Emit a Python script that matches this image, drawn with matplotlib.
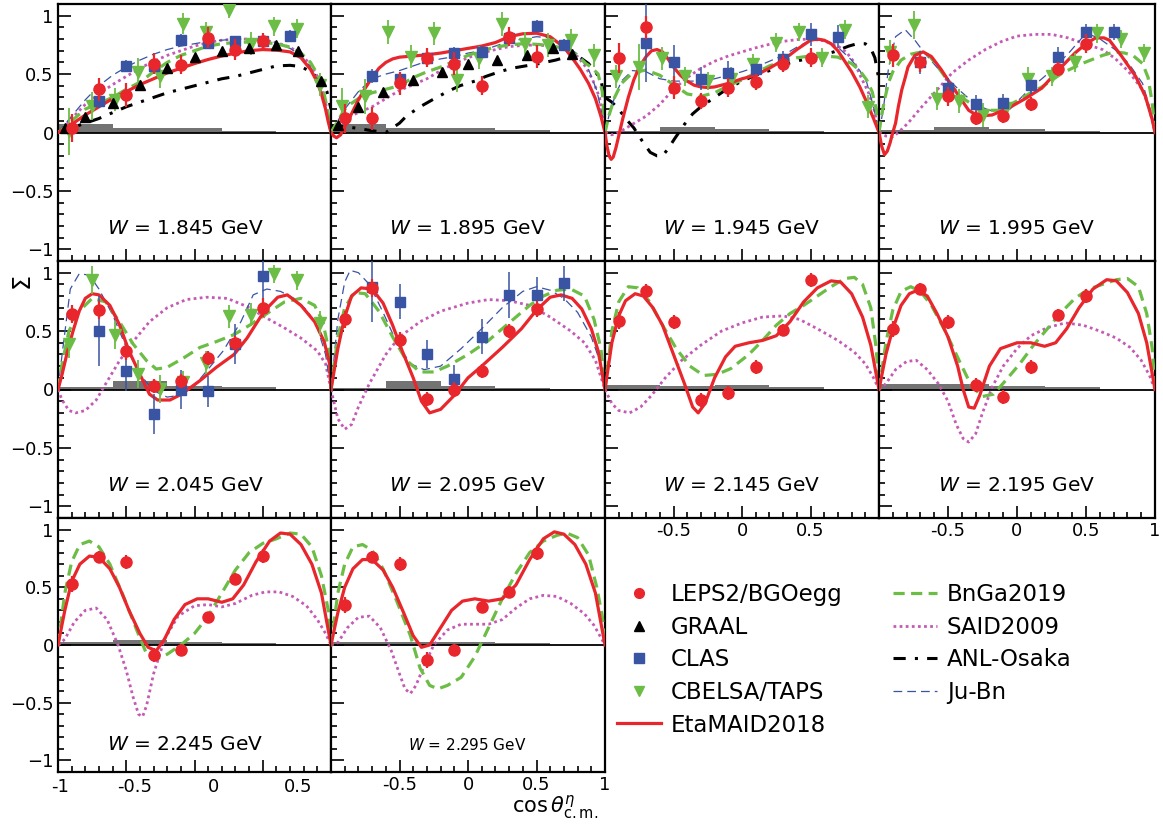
import matplotlib.pyplot as plt
from matplotlib.ticker import MultipleLocator, FixedLocator, FixedFormatter, NullFormatter
from matplotlib.lines import Line2D

plt.rcParams['font.family'] = 'DejaVu Sans'
plt.rcParams['mathtext.fontset'] = 'dejavusans'

# ---- data -------------------------------------------------------------
w_labels = ['1.845', '1.895', '1.945', '1.995', '2.045',
            '2.095', '2.145', '2.195', '2.245', '2.295']

# LEPS2/BGOegg (same bins in every panel)
leps_x = [-0.9, -0.7, -0.5, -0.3, -0.1, 0.1, 0.3, 0.5]
leps_y = [
    [0.04, 0.37, 0.32, 0.59, 0.58, 0.81, 0.71, 0.78],
    [0.12, 0.12, 0.42, 0.64, 0.59, 0.40, 0.82, 0.65],
    [0.64, 0.90, 0.385, 0.27, 0.385, 0.43, 0.59, 0.64],
    [0.66, 0.60, 0.31, 0.12, 0.145, 0.24, 0.54, 0.76],
    [0.645, 0.68, 0.33, 0.034, 0.073, 0.27, 0.40, 0.70],
    [0.60, 0.87, 0.42, -0.08, 0.0, 0.16, 0.50, 0.69],
    [0.59, 0.84, 0.58, -0.09, -0.03, 0.19, 0.51, 0.94],
    [0.52, 0.86, 0.58, 0.04, -0.06, 0.19, 0.64, 0.80],
    [0.53, 0.76, 0.72, -0.09, -0.04, 0.24, 0.57, 0.77],
    [0.35, 0.76, 0.70, -0.13, -0.04, 0.33, 0.46, 0.80],
]
leps_err = [
    [0.12, 0.10, 0.10, 0.09, 0.08, 0.09, 0.09, 0.07],
    [0.12, 0.10, 0.10, 0.08, 0.10, 0.08, 0.08, 0.10],
    [0.13, 0.10, 0.10, 0.07, 0.08, 0.07, 0.07, 0.08],
    [0.10, 0.08, 0.08, 0.06, 0.06, 0.06, 0.06, 0.08],
    [0.08, 0.08, 0.08, 0.06, 0.06, 0.06, 0.06, 0.08],
    [0.07, 0.08, 0.07, 0.06, 0.06, 0.06, 0.06, 0.07],
    [0.07, 0.06, 0.06, 0.06, 0.06, 0.06, 0.05, 0.06],
    [0.07, 0.05, 0.06, 0.06, 0.06, 0.06, 0.05, 0.06],
    [0.07, 0.05, 0.06, 0.06, 0.05, 0.05, 0.05, 0.06],
    [0.07, 0.05, 0.06, 0.07, 0.05, 0.05, 0.05, 0.06],
]
# systematic uncertainties (grey boxes)
leps_sys = [
    [0.07, 0.07, 0.035, 0.035, 0.04, 0.04, 0.015, 0.015],
    [0.07, 0.07, 0.04, 0.04, 0.04, 0.04, 0.02, 0.02],
    [0.015, 0.015, 0.045, 0.045, 0.03, 0.03, 0.015, 0.015],
    [0.02, 0.02, 0.045, 0.045, 0.03, 0.03, 0.017, 0.017],
    [0.02, 0.02, 0.07, 0.07, 0.03, 0.03, 0.02, 0.02],
    [0.01, 0.01, 0.07, 0.07, 0.03, 0.03, 0.01, 0.01],
    [0.04, 0.04, 0.03, 0.03, 0.04, 0.04, 0.02, 0.02],
    [0.05, 0.05, 0.05, 0.05, 0.03, 0.03, 0.02, 0.02],
    [0.03, 0.03, 0.04, 0.04, 0.03, 0.03, 0.02, 0.02],
    [0.03, 0.03, 0.03, 0.03, 0.03, 0.03, 0.02, 0.02],
]

# GRAAL
graal_x = [
    [-0.95, -0.8, -0.6, -0.4, -0.2, 0.0, 0.2, 0.4, 0.6, 0.76, 0.93],
    [-0.95, -0.8, -0.62, -0.4, -0.19, 0.0, 0.21, 0.43, 0.62, 0.76],
]
graal_y = [
    [0.04, 0.13, 0.25, 0.41, 0.55, 0.65, 0.70, 0.72, 0.75, 0.70, 0.44],
    [0.06, 0.22, 0.35, 0.45, 0.52, 0.59, 0.62, 0.66, 0.72, 0.67],
]

# CLAS
clas_x = [
    [-0.7, -0.5, -0.3, -0.1, 0.1, 0.3, 0.5, 0.7],
    [-0.7, -0.5, -0.3, -0.1, 0.1, 0.3, 0.5, 0.7],
    [-0.7, -0.5, -0.3, -0.1, 0.1, 0.3, 0.5, 0.7],
    [-0.7, -0.5, -0.3, -0.1, 0.1, 0.3, 0.5, 0.7],
    [-0.7, -0.5, -0.3, -0.1, 0.1, 0.3, 0.5],
    [-0.7, -0.5, -0.3, -0.1, 0.1, 0.3, 0.5, 0.7],
]
clas_y = [
    [0.27, 0.57, 0.565, 0.79, 0.77, 0.78, 0.785, 0.83],
    [0.48, 0.46, 0.64, 0.68, 0.69, 0.81, 0.91, 0.75],
    [0.77, 0.60, 0.46, 0.51, 0.54, 0.63, 0.84, 0.82],
    [0.60, 0.385, 0.24, 0.25, 0.41, 0.65, 0.86, 0.86],
    [0.50, 0.16, -0.21, 0.0, -0.017, 0.39, 0.97],
    [0.88, 0.75, 0.30, 0.09, 0.45, 0.81, 0.81, 0.91],
]
clas_err = [
    [0.06, 0.05, 0.05, 0.05, 0.05, 0.05, 0.05, 0.05],
    [0.06, 0.06, 0.05, 0.05, 0.05, 0.05, 0.05, 0.05],
    [0.34, 0.15, 0.10, 0.10, 0.08, 0.07, 0.10, 0.10],
    [0.10, 0.08, 0.08, 0.08, 0.08, 0.08, 0.07, 0.07],
    [0.30, 0.17, 0.17, 0.17, 0.13, 0.17, 0.25],
    [0.30, 0.15, 0.12, 0.12, 0.15, 0.20, 0.15, 0.15],
]

# CBELSA/TAPS
cb_x = [-0.917, -0.75, -0.583, -0.417, -0.25, -0.083,
        0.083, 0.25, 0.417, 0.583, 0.75, 0.917]
cb_y = [
    [0.01, 0.23, 0.28, 0.52, 0.48, 0.93, 0.86, 1.05, 0.76, 0.91, 0.89, 0.41],
    [0.23, 0.31, 0.86, 0.65, 0.85, 0.45, 0.64, 0.93, 0.76, 0.75, 0.79, 0.66],
    [0.48, 0.56, 0.635, 0.48, 0.44, 0.46, 0.59, 0.77, 0.86, 0.64, 0.88, 0.22],
    [0.69, 0.92, 0.29, 0.27, 0.15, 0.21, 0.46, 0.48, 0.60, 0.85, 0.80, 0.68],
    [0.39, 0.935, 0.47, 0.13, 0.006, 0.06, 0.23, 0.625, 0.64, 0.99, 0.935, 0.57],
]
cb_err = [
    [0.20, 0.12, 0.10, 0.12, 0.10, 0.09, 0.09, 0.07, 0.10, 0.08, 0.08, 0.10],
    [0.15, 0.15, 0.10, 0.10, 0.10, 0.10, 0.10, 0.10, 0.10, 0.10, 0.10, 0.10],
    [0.10, 0.20, 0.10, 0.08, 0.08, 0.10, 0.08, 0.08, 0.08, 0.08, 0.08, 0.10],
    [0.10, 0.12, 0.10, 0.10, 0.10, 0.08, 0.10, 0.08, 0.08, 0.08, 0.08, 0.08],
    [0.12, 0.12, 0.12, 0.12, 0.12, 0.10, 0.10, 0.10, 0.10, 0.08, 0.08, 0.10],
]

# model curves, (cos theta, Sigma) pairs per panel
maid = [
    [(-1, 0), (-0.95, 0.03), (-0.9, 0.07), (-0.8, 0.15), (-0.7, 0.22), (-0.6, 0.29), (-0.5, 0.35),
     (-0.4, 0.41), (-0.3, 0.46), (-0.2, 0.51), (-0.1, 0.55), (0, 0.59), (0.1, 0.625), (0.2, 0.655),
     (0.3, 0.68), (0.4, 0.70), (0.5, 0.71), (0.6, 0.705), (0.7, 0.69), (0.78, 0.64), (0.85, 0.54),
     (0.9, 0.43), (0.93, 0.33), (0.96, 0.2), (0.98, 0.09), (1, 0)],
    [(-1, 0), (-0.98, -0.03), (-0.96, -0.045), (-0.93, -0.02), (-0.9, 0.05), (-0.85, 0.16),
     (-0.8, 0.28), (-0.75, 0.38), (-0.7, 0.47), (-0.65, 0.55), (-0.6, 0.60), (-0.55, 0.63),
     (-0.5, 0.645), (-0.4, 0.655), (-0.3, 0.665), (-0.2, 0.68), (-0.1, 0.70), (0, 0.72), (0.1, 0.74),
     (0.2, 0.77), (0.3, 0.82), (0.4, 0.845), (0.5, 0.85), (0.6, 0.82), (0.7, 0.73), (0.76, 0.64),
     (0.82, 0.54), (0.88, 0.42), (0.93, 0.29), (0.97, 0.14), (1, 0)],
    [(-1, 0), (-0.985, -0.12), (-0.97, -0.2), (-0.955, -0.23), (-0.94, -0.21), (-0.92, -0.13),
     (-0.9, -0.03), (-0.87, 0.12), (-0.83, 0.3), (-0.79, 0.45), (-0.75, 0.56), (-0.7, 0.65),
     (-0.66, 0.70), (-0.62, 0.71), (-0.58, 0.69), (-0.54, 0.63), (-0.5, 0.56), (-0.45, 0.49),
     (-0.4, 0.44), (-0.35, 0.405), (-0.3, 0.39), (-0.25, 0.385), (-0.2, 0.39), (-0.1, 0.42),
     (0, 0.46), (0.1, 0.49), (0.2, 0.55), (0.3, 0.62), (0.4, 0.71), (0.5, 0.79), (0.55, 0.80),
     (0.6, 0.79), (0.65, 0.76), (0.7, 0.70), (0.75, 0.61), (0.8, 0.52), (0.86, 0.39), (0.91, 0.26),
     (0.96, 0.12), (1, 0)],
    [(-1, 0), (-0.98, -0.12), (-0.96, -0.19), (-0.94, -0.16), (-0.92, -0.09), (-0.9, 0.0),
     (-0.88, 0.08), (-0.86, 0.22), (-0.835, 0.365), (-0.81, 0.47), (-0.79, 0.56), (-0.74, 0.66),
     (-0.68, 0.69), (-0.62, 0.65), (-0.55, 0.54), (-0.5, 0.45), (-0.42, 0.31), (-0.35, 0.19),
     (-0.28, 0.14), (-0.18, 0.15), (-0.06, 0.21), (0.06, 0.29), (0.18, 0.38), (0.3, 0.535),
     (0.42, 0.68), (0.5, 0.76), (0.57, 0.81), (0.63, 0.81), (0.67, 0.79), (0.76, 0.65),
     (0.86, 0.48), (0.93, 0.31), (0.98, 0.11), (1, 0)],
    [(-1, 0), (-0.97, 0.13), (-0.93, 0.33), (-0.89, 0.5), (-0.845, 0.67), (-0.8, 0.78),
     (-0.75, 0.82), (-0.7, 0.81), (-0.62, 0.72), (-0.55, 0.555), (-0.48, 0.33), (-0.4, 0.13),
     (-0.33, -0.04), (-0.27, -0.09), (-0.18, -0.09), (-0.095, -0.04), (0.04, 0.076), (0.16, 0.19),
     (0.29, 0.3), (0.385, 0.44), (0.51, 0.67), (0.61, 0.79), (0.68, 0.81), (0.78, 0.72),
     (0.88, 0.58), (0.95, 0.41), (0.99, 0.22), (1, 0)],
    [(-1, 0), (-0.95, 0.35), (-0.9, 0.62), (-0.85, 0.8), (-0.78, 0.87), (-0.7, 0.86), (-0.62, 0.74),
     (-0.55, 0.55), (-0.48, 0.33), (-0.4, 0.1), (-0.34, -0.1), (-0.28, -0.2), (-0.2, -0.17),
     (-0.1, -0.05), (0.0, 0.1), (0.1, 0.2), (0.25, 0.36), (0.39, 0.52), (0.5, 0.68), (0.6, 0.79),
     (0.68, 0.81), (0.76, 0.78), (0.83, 0.69), (0.9, 0.52), (0.95, 0.33), (1, 0)],
    [(-1, 0), (-0.95, 0.4), (-0.9, 0.63), (-0.85, 0.76), (-0.78, 0.82), (-0.72, 0.8), (-0.65, 0.7),
     (-0.58, 0.55), (-0.5, 0.3), (-0.42, 0.05), (-0.36, -0.15), (-0.32, -0.2), (-0.27, -0.12),
     (-0.2, 0.1), (-0.12, 0.28), (-0.05, 0.37), (0.05, 0.4), (0.15, 0.42), (0.25, 0.46), (0.35, 0.58),
     (0.45, 0.75), (0.55, 0.87), (0.65, 0.93), (0.72, 0.92), (0.8, 0.82), (0.88, 0.62), (0.94, 0.38),
     (1, 0)],
    [(-1, 0), (-0.95, 0.3), (-0.9, 0.52), (-0.84, 0.72), (-0.78, 0.82), (-0.72, 0.85), (-0.65, 0.8),
     (-0.58, 0.65), (-0.5, 0.45), (-0.43, 0.2), (-0.39, 0.0), (-0.35, -0.15), (-0.31, -0.16),
     (-0.27, -0.05), (-0.2, 0.2), (-0.12, 0.35), (0.0, 0.4), (0.1, 0.4), (0.2, 0.37), (0.28, 0.4),
     (0.36, 0.52), (0.45, 0.7), (0.55, 0.86), (0.65, 0.94), (0.72, 0.93), (0.8, 0.83), (0.88, 0.65),
     (0.94, 0.4), (1, 0)],
    [(-1, 0), (-0.95, 0.3), (-0.9, 0.55), (-0.84, 0.7), (-0.77, 0.77), (-0.7, 0.76), (-0.62, 0.66),
     (-0.55, 0.5), (-0.48, 0.3), (-0.4, 0.1), (-0.34, -0.02), (-0.28, -0.05), (-0.22, 0.05),
     (-0.15, 0.22), (-0.07, 0.35), (0.02, 0.4), (0.1, 0.4), (0.2, 0.37), (0.28, 0.4), (0.36, 0.52),
     (0.45, 0.72), (0.55, 0.9), (0.63, 0.97), (0.7, 0.96), (0.78, 0.87), (0.86, 0.7), (0.93, 0.45),
     (1, 0)],
    [(-1, 0), (-0.95, 0.28), (-0.9, 0.5), (-0.84, 0.66), (-0.77, 0.74), (-0.7, 0.74), (-0.62, 0.65),
     (-0.55, 0.5), (-0.47, 0.28), (-0.4, 0.08), (-0.34, -0.02), (-0.28, 0.0), (-0.2, 0.15),
     (-0.12, 0.3), (-0.04, 0.38), (0.05, 0.4), (0.15, 0.38), (0.25, 0.4), (0.35, 0.52), (0.45, 0.74),
     (0.55, 0.92), (0.63, 0.98), (0.7, 0.96), (0.78, 0.87), (0.86, 0.7), (0.93, 0.45), (1, 0)],
]

bnga = [
    [(-1, 0), (-0.95, 0.04), (-0.9, 0.1), (-0.8, 0.2), (-0.7, 0.25), (-0.6, 0.3), (-0.5, 0.37),
     (-0.4, 0.43), (-0.3, 0.52), (-0.2, 0.6), (-0.1, 0.66), (0, 0.70), (0.1, 0.74), (0.2, 0.76),
     (0.3, 0.77), (0.4, 0.775), (0.5, 0.77), (0.6, 0.76), (0.7, 0.73), (0.78, 0.68), (0.85, 0.6),
     (0.9, 0.5), (0.94, 0.38), (0.97, 0.22), (1, 0)],
    [(-1, 0), (-0.95, 0.1), (-0.9, 0.2), (-0.85, 0.25), (-0.8, 0.29), (-0.7, 0.34), (-0.6, 0.37),
     (-0.5, 0.4), (-0.4, 0.47), (-0.3, 0.52), (-0.2, 0.56), (-0.1, 0.61), (0, 0.66), (0.1, 0.7),
     (0.2, 0.73), (0.3, 0.75), (0.4, 0.76), (0.5, 0.755), (0.6, 0.745), (0.7, 0.72), (0.8, 0.66),
     (0.86, 0.59), (0.9, 0.56), (0.95, 0.5), (0.98, 0.35), (1, 0)],
    [(-1, 0), (-0.97, 0.15), (-0.93, 0.3), (-0.88, 0.42), (-0.8, 0.51), (-0.7, 0.535), (-0.6, 0.49),
     (-0.5, 0.41), (-0.4, 0.33), (-0.3, 0.31), (-0.2, 0.34), (-0.1, 0.4), (0, 0.45), (0.1, 0.51),
     (0.2, 0.57), (0.3, 0.61), (0.4, 0.64), (0.5, 0.655), (0.6, 0.655), (0.7, 0.645), (0.8, 0.59),
     (0.86, 0.53), (0.91, 0.45), (0.95, 0.35), (0.98, 0.2), (1, 0)],
    [(-1, 0), (-0.98, 0.15), (-0.96, 0.28), (-0.93, 0.43), (-0.9, 0.52), (-0.84, 0.62), (-0.77, 0.67),
     (-0.69, 0.69), (-0.63, 0.65), (-0.59, 0.59), (-0.5, 0.44), (-0.44, 0.35), (-0.375, 0.28),
     (-0.3, 0.22), (-0.25, 0.19), (-0.13, 0.19), (0.0, 0.27), (0.1, 0.34), (0.18, 0.39), (0.33, 0.51),
     (0.47, 0.59), (0.62, 0.66), (0.71, 0.69), (0.78, 0.68), (0.84, 0.66), (0.91, 0.59), (0.95, 0.47),
     (0.98, 0.25), (1, 0)],
    [(-1, 0), (-0.97, 0.22), (-0.92, 0.5), (-0.845, 0.67), (-0.75, 0.78), (-0.65, 0.75), (-0.55, 0.58),
     (-0.45, 0.39), (-0.35, 0.245), (-0.28, 0.175), (-0.2, 0.19), (-0.08, 0.27), (0.04, 0.36),
     (0.16, 0.41), (0.29, 0.47), (0.41, 0.555), (0.53, 0.65), (0.66, 0.75), (0.78, 0.78), (0.88, 0.72),
     (0.94, 0.58), (0.99, 0.3), (1, 0)],
    [(-1, 0), (-0.95, 0.45), (-0.9, 0.7), (-0.83, 0.83), (-0.75, 0.82), (-0.65, 0.67), (-0.55, 0.45),
     (-0.45, 0.25), (-0.35, 0.15), (-0.25, 0.15), (-0.15, 0.2), (0, 0.3), (0.15, 0.42), (0.3, 0.57),
     (0.45, 0.72), (0.55, 0.8), (0.65, 0.85), (0.75, 0.86), (0.85, 0.8), (0.92, 0.6), (0.97, 0.35),
     (1, 0)],
    [(-1, 0), (-0.95, 0.5), (-0.9, 0.75), (-0.83, 0.88), (-0.76, 0.87), (-0.68, 0.76), (-0.58, 0.55),
     (-0.48, 0.35), (-0.38, 0.2), (-0.28, 0.12), (-0.18, 0.13), (-0.08, 0.18), (0.05, 0.3),
     (0.15, 0.42), (0.25, 0.55), (0.35, 0.65), (0.45, 0.72), (0.55, 0.8), (0.65, 0.88), (0.75, 0.95),
     (0.82, 0.96), (0.88, 0.9), (0.94, 0.7), (0.98, 0.35), (1, 0)],
    [(-1, 0), (-0.95, 0.4), (-0.9, 0.68), (-0.84, 0.84), (-0.77, 0.88), (-0.7, 0.84), (-0.62, 0.72),
     (-0.52, 0.5), (-0.42, 0.25), (-0.33, 0.03), (-0.25, -0.06), (-0.17, -0.04), (-0.08, 0.08),
     (0.02, 0.22), (0.12, 0.38), (0.22, 0.52), (0.32, 0.66), (0.42, 0.78), (0.52, 0.86), (0.62, 0.9),
     (0.72, 0.94), (0.8, 0.95), (0.88, 0.88), (0.94, 0.65), (0.98, 0.35), (1, 0)],
    [(-1, 0), (-0.95, 0.45), (-0.9, 0.72), (-0.84, 0.87), (-0.77, 0.9), (-0.7, 0.85), (-0.62, 0.7),
     (-0.52, 0.42), (-0.42, 0.12), (-0.35, -0.08), (-0.28, -0.12), (-0.2, -0.08), (-0.1, 0.0),
     (0.0, 0.1), (0.1, 0.25), (0.2, 0.45), (0.3, 0.65), (0.4, 0.8), (0.5, 0.88), (0.6, 0.92),
     (0.7, 0.97), (0.78, 0.96), (0.86, 0.85), (0.93, 0.6), (0.98, 0.3), (1, 0)],
    [(-1, 0), (-0.95, 0.45), (-0.9, 0.7), (-0.84, 0.85), (-0.77, 0.87), (-0.7, 0.82), (-0.62, 0.66),
     (-0.52, 0.38), (-0.42, 0.08), (-0.35, -0.2), (-0.28, -0.35), (-0.22, -0.38), (-0.15, -0.35),
     (-0.05, -0.28), (0.05, -0.1), (0.15, 0.15), (0.25, 0.4), (0.35, 0.62), (0.45, 0.8), (0.55, 0.9),
     (0.65, 0.95), (0.72, 0.97), (0.8, 0.93), (0.88, 0.78), (0.94, 0.5), (0.98, 0.25), (1, 0)],
]

said = [
    [(-1, 0), (-0.95, 0.05), (-0.9, 0.12), (-0.8, 0.24), (-0.7, 0.33), (-0.6, 0.41), (-0.5, 0.48),
     (-0.4, 0.55), (-0.3, 0.61), (-0.2, 0.66), (-0.1, 0.7), (0, 0.74), (0.1, 0.77), (0.2, 0.79),
     (0.3, 0.8), (0.4, 0.8), (0.5, 0.79), (0.6, 0.77), (0.7, 0.73), (0.78, 0.67), (0.85, 0.58),
     (0.9, 0.48), (0.94, 0.36), (0.97, 0.2), (1, 0)],
    [(-1, 0), (-0.95, 0.07), (-0.9, 0.12), (-0.8, 0.17), (-0.7, 0.22), (-0.6, 0.29), (-0.5, 0.36),
     (-0.4, 0.41), (-0.3, 0.46), (-0.2, 0.53), (-0.1, 0.59), (0, 0.64), (0.1, 0.68), (0.2, 0.71),
     (0.3, 0.735), (0.4, 0.745), (0.5, 0.75), (0.6, 0.74), (0.7, 0.72), (0.8, 0.65), (0.86, 0.56),
     (0.91, 0.45), (0.96, 0.3), (1, 0)],
    [(-1, 0), (-0.95, -0.02), (-0.9, 0.0), (-0.8, 0.07), (-0.7, 0.14), (-0.6, 0.24), (-0.5, 0.37),
     (-0.4, 0.47), (-0.3, 0.55), (-0.2, 0.61), (-0.1, 0.655), (0, 0.69), (0.1, 0.725), (0.2, 0.755),
     (0.3, 0.78), (0.4, 0.795), (0.5, 0.80), (0.6, 0.785), (0.7, 0.74), (0.76, 0.69), (0.82, 0.6),
     (0.87, 0.47), (0.92, 0.35), (0.96, 0.22), (1, 0)],
    [(-1, 0), (-0.95, -0.03), (-0.9, -0.035), (-0.86, 0.0), (-0.79, 0.08), (-0.69, 0.22),
     (-0.59, 0.35), (-0.47, 0.51), (-0.35, 0.62), (-0.23, 0.71), (-0.11, 0.78), (0.0, 0.825),
     (0.13, 0.84), (0.25, 0.84), (0.37, 0.81), (0.5, 0.755), (0.62, 0.71), (0.71, 0.635),
     (0.81, 0.52), (0.91, 0.365), (0.96, 0.2), (1, 0)],
    [(-1, 0), (-0.97, -0.09), (-0.92, -0.18), (-0.87, -0.2), (-0.8, -0.18), (-0.72, -0.09),
     (-0.65, 0.05), (-0.55, 0.245), (-0.45, 0.41), (-0.33, 0.58), (-0.2, 0.7), (-0.06, 0.77),
     (0.09, 0.79), (0.24, 0.78), (0.385, 0.71), (0.53, 0.61), (0.655, 0.53), (0.78, 0.44),
     (0.9, 0.33), (0.96, 0.22), (1, 0)],
    [(-1, 0), (-0.95, -0.25), (-0.9, -0.34), (-0.85, -0.3), (-0.8, -0.15), (-0.72, 0.05), (-0.6, 0.3),
     (-0.5, 0.45), (-0.35, 0.58), (-0.2, 0.67), (0, 0.74), (0.15, 0.77), (0.3, 0.76), (0.45, 0.72),
     (0.6, 0.62), (0.75, 0.5), (0.85, 0.4), (0.93, 0.25), (1, 0)],
    [(-1, 0), (-0.95, -0.12), (-0.9, -0.18), (-0.82, -0.2), (-0.74, -0.15), (-0.66, -0.05),
     (-0.56, 0.1), (-0.44, 0.25), (-0.3, 0.38), (-0.15, 0.5), (0, 0.57), (0.15, 0.62), (0.3, 0.63),
     (0.42, 0.6), (0.55, 0.52), (0.7, 0.42), (0.82, 0.32), (0.9, 0.22), (0.96, 0.1), (1, 0)],
    [(-1, 0), (-0.95, 0.05), (-0.88, 0.17), (-0.8, 0.24), (-0.73, 0.25), (-0.65, 0.17), (-0.57, 0.05),
     (-0.5, -0.1), (-0.44, -0.3), (-0.39, -0.42), (-0.35, -0.45), (-0.3, -0.38), (-0.25, -0.2),
     (-0.18, 0.02), (-0.1, 0.2), (0.0, 0.35), (0.1, 0.46), (0.22, 0.53), (0.35, 0.57), (0.48, 0.55),
     (0.6, 0.5), (0.72, 0.44), (0.82, 0.36), (0.9, 0.25), (0.96, 0.12), (1, 0)],
    [(-1, 0), (-0.95, 0.05), (-0.88, 0.2), (-0.8, 0.3), (-0.72, 0.32), (-0.64, 0.22), (-0.56, 0.0),
     (-0.5, -0.22), (-0.45, -0.45), (-0.41, -0.6), (-0.38, -0.62), (-0.35, -0.52), (-0.3, -0.25),
     (-0.22, 0.05), (-0.12, 0.25), (0.0, 0.34), (0.1, 0.35), (0.2, 0.33), (0.3, 0.36), (0.42, 0.43),
     (0.52, 0.46), (0.62, 0.46), (0.72, 0.42), (0.82, 0.34), (0.9, 0.22), (0.96, 0.1), (1, 0)],
    [(-1, 0), (-0.95, 0.02), (-0.88, 0.15), (-0.8, 0.24), (-0.72, 0.25), (-0.64, 0.15), (-0.56, -0.05),
     (-0.5, -0.25), (-0.46, -0.38), (-0.42, -0.42), (-0.38, -0.35), (-0.32, -0.18), (-0.25, 0.0),
     (-0.15, 0.13), (-0.05, 0.18), (0.05, 0.18), (0.15, 0.18), (0.25, 0.22), (0.35, 0.32),
     (0.45, 0.4), (0.55, 0.43), (0.65, 0.42), (0.75, 0.36), (0.85, 0.27), (0.92, 0.17), (1, 0)],
]

anl = [
    [(-1, 0.0), (-0.9, 0.04), (-0.8, 0.08), (-0.7, 0.12), (-0.6, 0.17), (-0.5, 0.22), (-0.4, 0.26),
     (-0.3, 0.30), (-0.2, 0.34), (-0.1, 0.37), (0, 0.40), (0.1, 0.43), (0.2, 0.46), (0.3, 0.48),
     (0.4, 0.51), (0.5, 0.54), (0.6, 0.57), (0.7, 0.575), (0.78, 0.565), (0.85, 0.52), (0.9, 0.47),
     (0.93, 0.45), (0.97, 0.35), (1, 0.2)],
    [(-1, 0.06), (-0.9, 0.05), (-0.8, 0.035), (-0.7, 0.015), (-0.6, 0.0), (-0.5, 0.08), (-0.45, 0.14),
     (-0.35, 0.22), (-0.26, 0.28), (-0.15, 0.35), (-0.06, 0.40), (0.05, 0.44), (0.13, 0.48),
     (0.23, 0.52), (0.32, 0.55), (0.42, 0.57), (0.52, 0.59), (0.64, 0.62), (0.76, 0.66), (0.82, 0.64),
     (0.88, 0.59), (0.93, 0.52), (0.97, 0.45), (1, 0.28)],
    [(-1, 0.3), (-0.95, 0.26), (-0.9, 0.2), (-0.85, 0.12), (-0.79, 0.04), (-0.73, -0.07),
     (-0.67, -0.17), (-0.62, -0.2), (-0.58, -0.2), (-0.54, -0.14), (-0.49, -0.05), (-0.42, 0.07),
     (-0.36, 0.16), (-0.3, 0.22), (-0.2, 0.3), (-0.1, 0.38), (0, 0.44), (0.1, 0.49), (0.2, 0.53),
     (0.33, 0.59), (0.5, 0.64), (0.67, 0.69), (0.78, 0.74), (0.84, 0.76), (0.9, 0.76), (0.94, 0.72),
     (0.97, 0.64), (1, 0.45)],
]

jubn = [
    [(-1, 0), (-0.95, 0.07), (-0.9, 0.14), (-0.8, 0.28), (-0.7, 0.4), (-0.6, 0.49), (-0.5, 0.56),
     (-0.4, 0.62), (-0.3, 0.67), (-0.2, 0.71), (-0.1, 0.74), (0, 0.76), (0.1, 0.78), (0.2, 0.79),
     (0.3, 0.8), (0.4, 0.8), (0.5, 0.79), (0.6, 0.77), (0.7, 0.72), (0.78, 0.66), (0.85, 0.56),
     (0.9, 0.45), (0.94, 0.32), (0.97, 0.18), (1, 0)],
    [(-1, 0), (-0.95, 0.1), (-0.9, 0.2), (-0.8, 0.35), (-0.7, 0.46), (-0.6, 0.5), (-0.5, 0.53),
     (-0.4, 0.57), (-0.3, 0.61), (-0.2, 0.63), (-0.1, 0.65), (0, 0.68), (0.1, 0.70), (0.2, 0.74),
     (0.3, 0.78), (0.4, 0.8), (0.5, 0.82), (0.6, 0.81), (0.7, 0.76), (0.8, 0.67), (0.88, 0.54),
     (0.94, 0.36), (0.98, 0.15), (1, 0)],
    [(-1, 0), (-0.97, 0.15), (-0.93, 0.3), (-0.88, 0.44), (-0.8, 0.53), (-0.7, 0.52), (-0.6, 0.46),
     (-0.5, 0.44), (-0.4, 0.44), (-0.3, 0.44), (-0.2, 0.46), (-0.1, 0.49), (0, 0.52), (0.1, 0.56),
     (0.2, 0.61), (0.3, 0.66), (0.4, 0.73), (0.5, 0.79), (0.6, 0.79), (0.7, 0.73), (0.8, 0.62),
     (0.86, 0.53), (0.91, 0.43), (0.96, 0.22), (1, 0)],
    [(-1, 0), (-0.97, 0.19), (-0.93, 0.56), (-0.88, 0.82), (-0.81, 0.88), (-0.74, 0.79), (-0.67, 0.68),
     (-0.545, 0.51), (-0.42, 0.365), (-0.3, 0.24), (-0.2, 0.19), (-0.06, 0.19), (0.085, 0.365),
     (0.23, 0.51), (0.375, 0.68), (0.5, 0.85), (0.59, 0.81), (0.71, 0.71), (0.81, 0.59), (0.91, 0.42),
     (0.98, 0.14), (1, 0)],
    [(-1, 0), (-0.97, 0.3), (-0.94, 0.58), (-0.91, 0.86), (-0.845, 0.99), (-0.77, 0.98), (-0.7, 0.86),
     (-0.6, 0.64), (-0.5, 0.36), (-0.4, 0.13), (-0.3, -0.01), (-0.2, -0.065), (-0.11, -0.05),
     (-0.01, 0.02), (0.09, 0.16), (0.21, 0.33), (0.34, 0.58), (0.43, 0.81), (0.53, 0.86), (0.63, 0.84),
     (0.73, 0.78), (0.83, 0.67), (0.9, 0.53), (0.96, 0.3), (1, 0)],
    [(-1, 0), (-0.95, 0.6), (-0.9, 0.92), (-0.86, 1.02), (-0.8, 1.0), (-0.72, 0.9), (-0.62, 0.66),
     (-0.52, 0.4), (-0.42, 0.22), (-0.32, 0.17), (-0.2, 0.2), (-0.05, 0.35), (0.1, 0.52), (0.25, 0.7),
     (0.4, 0.84), (0.5, 0.88), (0.6, 0.85), (0.7, 0.78), (0.8, 0.66), (0.9, 0.45), (0.96, 0.25), (1, 0)],
]

# ---- style ------------------------------------------------------------
RED = '#e8262c'
BLUE = '#3a54a4'
GREEN = '#6cbd45'
MAGENTA = '#c55ab4'
GREY = '#737373'

FW, FH = 1163, 826
col_edges = [58, 331, 605, 879, 1155]
row_edges = [4, 261, 518, 772]
grid_pos = [(0, 0), (0, 1), (0, 2), (0, 3), (1, 0), (1, 1), (1, 2), (1, 3), (2, 0), (2, 1)]
label_y = [0.125, 0.128, 0.108]

fig = plt.figure(figsize=(FW / 100, FH / 100), dpi=100)


def fmt_y(v):
    return {1.0: '1', 0.5: '0.5', 0.0: '0', -0.5: '\u22120.5', -1.0: '\u22121'}[v]


for i, (r, c) in enumerate(grid_pos):
    left = col_edges[c] / FW
    width = (col_edges[c + 1] - col_edges[c]) / FW
    bottom = 1 - row_edges[r + 1] / FH
    height = (row_edges[r + 1] - row_edges[r]) / FH
    ax = fig.add_axes([left, bottom, width, height])
    ax.set_xlim(-1, 1)
    ax.set_ylim(-1.1, 1.1)

    # systematic boxes
    ax.bar(leps_x, leps_sys[i], width=0.2, color=GREY, lw=0, zorder=1)
    ax.axhline(0, color='black', lw=1.3, zorder=2)

    # models
    if i < len(anl):
        ax.plot(*zip(*anl[i]), color='black', lw=2.2, ls=(0, (4, 3, 1, 3)), zorder=3)
    ax.plot(*zip(*said[i]), color=MAGENTA, lw=2.0, ls=(0, (1, 1.2)), zorder=3)
    if i < len(jubn):
        ax.plot(*zip(*jubn[i]), color=BLUE, lw=0.9, ls=(0, (7, 4)), zorder=3)
    ax.plot(*zip(*bnga[i]), color=GREEN, lw=2.3, ls=(0, (3.5, 2)), zorder=3)
    ax.plot(*zip(*maid[i]), color=RED, lw=2.3, zorder=4)

    # data
    if i < len(cb_y):
        ax.errorbar(cb_x, cb_y[i], yerr=cb_err[i], fmt='v', color=GREEN, ms=8.5,
                    elinewidth=1.3, capsize=0, zorder=5)
    if i < len(clas_y):
        ax.errorbar(clas_x[i], clas_y[i], yerr=clas_err[i], fmt='s', color=BLUE, ms=7,
                    elinewidth=1.1, capsize=0, zorder=5)
    if i < len(graal_y):
        ax.errorbar(graal_x[i], graal_y[i], yerr=0.03, fmt='^', color='black', ms=7,
                    elinewidth=1.0, capsize=0, zorder=5)
    ax.errorbar(leps_x, leps_y[i], yerr=leps_err[i], fmt='o', color=RED, ms=8,
                elinewidth=1.6, capsize=0, zorder=6)

    # axes look
    for s in ax.spines.values():
        s.set_linewidth(1.6)
    ax.xaxis.set_major_locator(MultipleLocator(0.5))
    ax.xaxis.set_minor_locator(MultipleLocator(0.1))
    ax.yaxis.set_major_locator(FixedLocator([-1, -0.5, 0, 0.5, 1]))
    ax.yaxis.set_minor_locator(MultipleLocator(0.1))
    ax.tick_params(which='both', direction='in', top=False, right=False, width=1.2,
                   labelsize=13)
    ax.tick_params(which='major', length=9)
    ax.tick_params(which='minor', length=4.5)
    ax.tick_params(axis='y', pad=3)
    ax.tick_params(axis='x', pad=3)

    if c == 0:
        ax.yaxis.set_major_formatter(FixedFormatter([fmt_y(v) for v in [-1.0, -0.5, 0.0, 0.5, 1.0]]))
    else:
        ax.yaxis.set_major_formatter(NullFormatter())

    ax.set_xticks([-1, -0.5, 0, 0.5, 1])
    if i in (7, 9):
        ax.set_xticklabels(['', '-0.5', '0', '0.5', '1'])
    elif i == 6:
        ax.set_xticklabels(['', '-0.5', '0', '0.5', ''])
    else:
        ax.set_xticklabels([])
    if i == 8:
        for pos, txt in zip([-0.985, -0.436, 0.136, 0.758], ['-1', '-0.5', '0', '0.5']):
            ax.text(pos, -0.022, txt, transform=ax.get_xaxis_transform(), ha='center',
                    va='top', fontsize=13)

    xc = 0.467 if c == 0 else 0.497
    fs = 11 if i == 9 else 14.5
    ax.text(xc, label_y[r], r'$W$ = ' + w_labels[i] + ' GeV', transform=ax.transAxes,
            ha='center', va='center', fontsize=fs)

# axis titles
fig.text(22 / FW, 1 - 281 / FH, '\u03a3', rotation=90, fontsize=17, ha='center', va='center')
fig.text(598 / FW, 1 - 807 / FH, r'$\cos\theta^{\eta}_{\rm c.m.}$', ha='right', va='center',
         fontsize=15)

# legend
handles = [
    Line2D([], [], ls='none', marker='o', color=RED, ms=7),
    Line2D([], [], ls='none', marker='^', color='black', ms=6.5),
    Line2D([], [], ls='none', marker='s', color=BLUE, ms=6.5),
    Line2D([], [], ls='none', marker='v', color=GREEN, ms=7),
    Line2D([], [], color=RED, lw=2.3),
    Line2D([], [], color=GREEN, lw=2.3, ls=(0, (3.5, 2))),
    Line2D([], [], color=MAGENTA, lw=2.0, ls=(0, (1, 1.2))),
    Line2D([], [], color='black', lw=2.2, ls=(0, (4, 3, 1, 3))),
    Line2D([], [], color=BLUE, lw=0.9, ls=(0, (7, 4))),
]
labels = ['LEPS2/BGOegg', 'GRAAL', 'CLAS', 'CBELSA/TAPS', 'EtaMAID2018',
          'BnGa2019', 'SAID2009', 'ANL-Osaka', 'Ju-Bn']
fig.legend(handles, labels, ncol=2, loc='upper left', bbox_to_anchor=(617 / FW, 1 - 583 / FH),
           frameon=False, fontsize=16.5, handlelength=1.9, handletextpad=0.45,
           columnspacing=2.2, labelspacing=0.42, borderpad=0, borderaxespad=0)

fig.savefig('out.png', dpi=100)
